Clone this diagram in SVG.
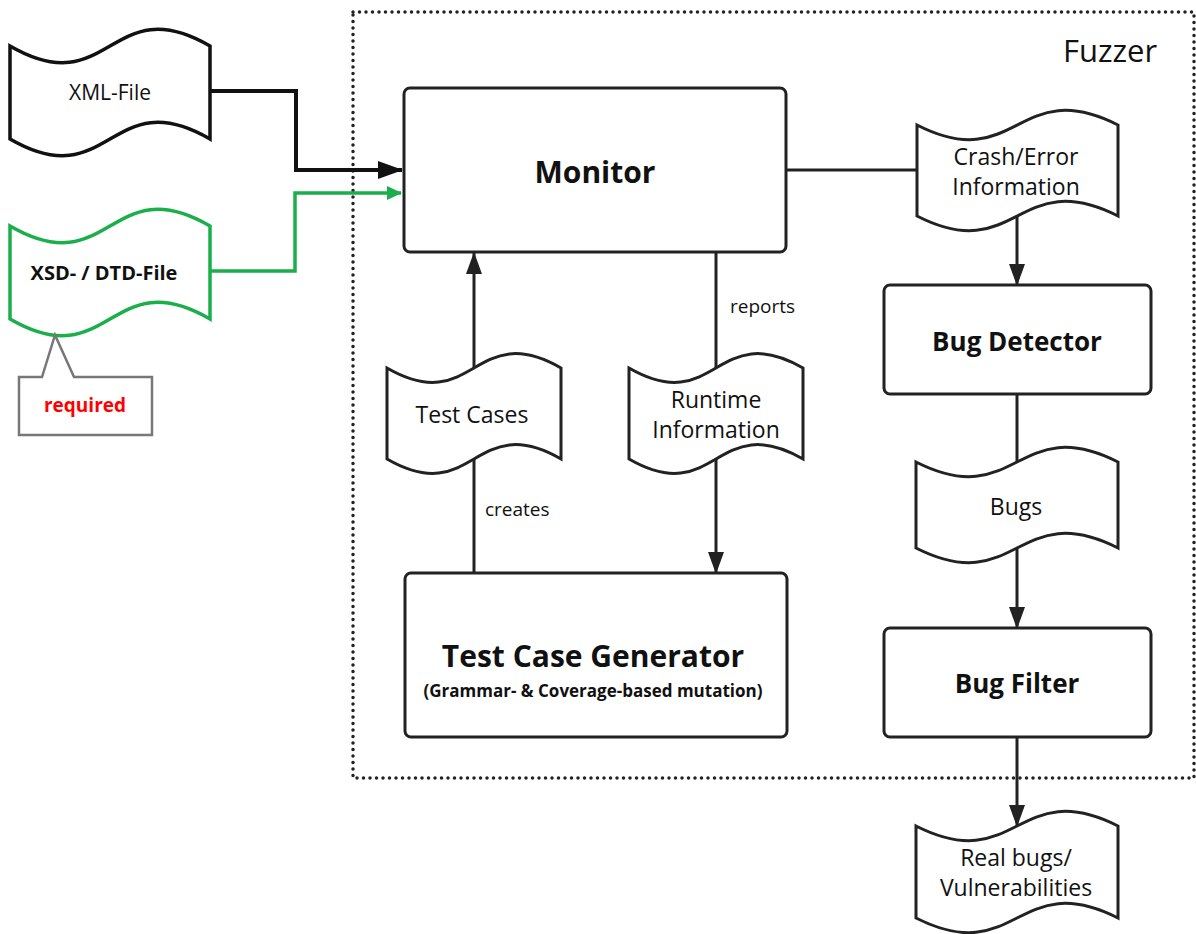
<svg xmlns="http://www.w3.org/2000/svg" width="1196" height="934" viewBox="0 0 1196 934">
  <style>
    .box { fill: #fff; stroke: #222; stroke-width: 3; }
    .tape { fill: #fff; stroke: #222; stroke-width: 3; stroke-linejoin: miter; }
    .link { fill: none; stroke: #222; stroke-width: 3; }
    .t { font-family: "Open Sans", "Noto Sans", sans-serif; fill: #111; text-anchor: middle; }
    .title { font-weight: bold; }
  </style>
  <defs>
    <marker id="arr" markerUnits="userSpaceOnUse" markerWidth="22" markerHeight="16" refX="21" refY="8" orient="auto">
      <path d="M0,0 L22,8 L0,16 Z" fill="#222"/>
    </marker>
    <marker id="arrBig" markerUnits="userSpaceOnUse" markerWidth="25" markerHeight="18" refX="24" refY="9" orient="auto">
      <path d="M0,0 L25,9 L0,18 Z" fill="#111"/>
    </marker>
    <marker id="arrG" markerUnits="userSpaceOnUse" markerWidth="15" markerHeight="14" refX="14" refY="7" orient="auto">
      <path d="M0,0 L15,7 L0,14 Z" fill="#1aaf4b"/>
    </marker>
  </defs>

  <!-- fuzzer boundary -->
  <g id="fuzzer">
    <rect x="353" y="12" width="841" height="766" fill="none" stroke="#222" stroke-width="3.5" stroke-dasharray="0 6.5" stroke-linecap="round"/>
    <text class="t" x="1110" y="62" font-size="31" fill="#222">Fuzzer</text>
  </g>

  <!-- connectors -->
  <g id="connectors">
    <polyline points="210,91 296,91 296,170 402,170" fill="none" stroke="#111" stroke-width="4" marker-end="url(#arrBig)"/>
    <polyline points="210,271 295,271 295,193 401,193" fill="none" stroke="#1aaf4b" stroke-width="3.5" marker-end="url(#arrG)"/>
    <line class="link" x1="786" y1="170" x2="917" y2="170"/>
    <line class="link" x1="1017" y1="216" x2="1017" y2="285" marker-end="url(#arr)"/>
    <line class="link" x1="1017" y1="394" x2="1017" y2="462"/>
    <line class="link" x1="1017" y1="548" x2="1017" y2="628" marker-end="url(#arr)"/>
    <line class="link" x1="1017" y1="737" x2="1017" y2="826" marker-end="url(#arr)"/>
    <line class="link" x1="716" y1="252" x2="716" y2="368"/>
    <line class="link" x1="716" y1="459" x2="716" y2="573" marker-end="url(#arr)"/>
    <line class="link" x1="474" y1="573" x2="474" y2="459"/>
    <line class="link" x1="474" y1="368" x2="474" y2="253" marker-end="url(#arr)"/>
    <text class="t" x="730" y="313" font-size="19" style="text-anchor:start">reports</text>
    <text class="t" x="485" y="516" font-size="19" style="text-anchor:start">creates</text>
  </g>

  <!-- inputs -->
  <g id="xml-file">
    <path d="M10,46 C110,104 110,-12 210,46 L210,139 C110,81 110,197 10,139 Z" fill="#fff" stroke="#111" stroke-width="3.5"/>
    <text class="t" x="110" y="100" font-size="21">XML-File</text>
  </g>
  <g id="schema-file">
    <path d="M10,226 C110,284 110,168 210,226 L210,319 C110,261 110,377 10,319 Z" fill="#fff" stroke="#1aaf4b" stroke-width="3.5"/>
    <text class="t title" x="104" y="280" font-size="20">XSD- / DTD-File</text>
  </g>
  <g id="required-note">
    <path d="M55,335 L42,377 L19,377 L19,435 L152,435 L152,377 L74,377 Z" fill="#fff" stroke="#777" stroke-width="2.5"/>
    <text class="t title" x="85" y="412" font-size="19" style="fill:#f00">required</text>
  </g>

  <!-- fuzzer components -->
  <g id="monitor">
    <rect class="box" x="404" y="88" width="382" height="164" rx="6"/>
    <text class="t title" x="595" y="183" font-size="30">Monitor</text>
  </g>
  <g id="test-cases">
    <path class="tape" d="M387,368 C474,418 474,318 561,368 L561,459 C474,409 474,509 387,459 Z"/>
    <text class="t" x="472" y="423" font-size="23">Test Cases</text>
  </g>
  <g id="runtime-info">
    <path class="tape" d="M629,368 C716,418 716,318 803,368 L803,459 C716,409 716,509 629,459 Z"/>
    <text class="t" x="716" y="408" font-size="23">Runtime</text>
    <text class="t" x="716" y="438" font-size="23">Information</text>
  </g>
  <g id="test-case-generator">
    <rect class="box" x="405" y="573" width="382" height="164" rx="6"/>
    <text class="t title" x="593" y="667" font-size="30">Test Case Generator</text>
    <text class="t title" x="593" y="697" font-size="17">(Grammar- &amp; Coverage-based mutation)</text>
  </g>
  <g id="crash-info">
    <path class="tape" d="M917,125 C1017,176 1017,74 1118,125 L1118,216 C1017,165 1017,267 917,216 Z"/>
    <text class="t" x="1016" y="165" font-size="23">Crash/Error</text>
    <text class="t" x="1016" y="195" font-size="23">Information</text>
  </g>
  <g id="bug-detector">
    <rect class="box" x="884" y="285" width="267" height="109" rx="6"/>
    <text class="t title" x="1017" y="351" font-size="26">Bug Detector</text>
  </g>
  <g id="bugs">
    <path class="tape" d="M916,462 C1017,513 1017,411 1118,462 L1118,548 C1017,497 1017,599 916,548 Z"/>
    <text class="t" x="1016" y="515" font-size="23">Bugs</text>
  </g>
  <g id="bug-filter">
    <rect class="box" x="884" y="628" width="267" height="109" rx="6"/>
    <text class="t title" x="1017" y="693" font-size="26">Bug Filter</text>
  </g>
  <g id="real-bugs">
    <path class="tape" d="M916,826 C1017,877 1017,775 1118,826 L1118,918 C1017,867 1017,969 916,918 Z"/>
    <text class="t" x="1016" y="866" font-size="23">Real bugs/</text>
    <text class="t" x="1016" y="896" font-size="23">Vulnerabilities</text>
  </g>
</svg>
